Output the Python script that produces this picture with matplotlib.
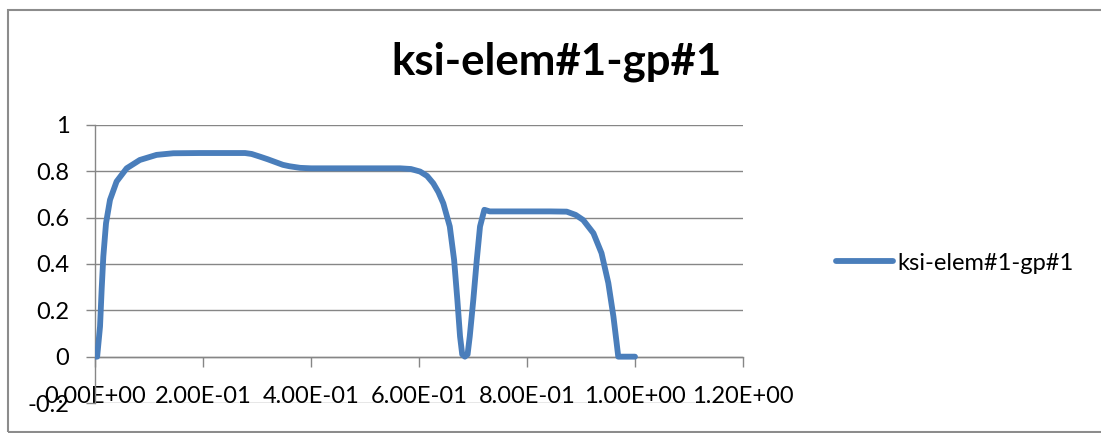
import matplotlib
matplotlib.use("Agg")
import matplotlib.pyplot as plt
from matplotlib.patches import Rectangle

# Series: ksi at element 1, Gauss point 1
series_name = "ksi-elem#1-gp#1"
time = [0.0, 0.004, 0.0093, 0.0123, 0.0154, 0.0204, 0.0278, 0.040, 0.0586,
        0.083, 0.114, 0.145, 0.194, 0.278, 0.29, 0.306, 0.32, 0.348, 0.36,
        0.38, 0.40, 0.417, 0.565, 0.585, 0.602, 0.615, 0.6265, 0.636, 0.645,
        0.657, 0.665, 0.671, 0.676, 0.680, 0.685, 0.690, 0.694, 0.7006, 0.707,
        0.713, 0.721, 0.731, 0.8426, 0.8735, 0.89, 0.904, 0.923, 0.938,
        0.9506, 0.96, 0.966, 0.969, 1.0]
ksi = [0.0, 0.0, 0.13, 0.289, 0.432, 0.576, 0.677, 0.756, 0.813,
       0.849, 0.871, 0.878, 0.879, 0.879, 0.875, 0.863, 0.852, 0.828, 0.822,
       0.815, 0.813, 0.813, 0.813, 0.810, 0.799, 0.780, 0.748, 0.710, 0.662,
       0.562, 0.418, 0.246, 0.0875, 0.01, 0.0, 0.01, 0.0875, 0.246, 0.418,
       0.562, 0.634, 0.627, 0.627, 0.626, 0.612, 0.59, 0.533, 0.447,
       0.318, 0.174, 0.059, 0.0, 0.0]

x_ticks = [0.0, 0.2, 0.4, 0.6, 0.8, 1.0, 1.2]
x_tick_labels = ["0.00E+00", "2.00E-01", "4.00E-01", "6.00E-01", "8.00E-01",
                 "1.00E+00", "1.20E+00"]
y_ticks = [-0.2, 0.0, 0.2, 0.4, 0.6, 0.8, 1.0]
y_tick_labels = ["-0.2", "0", "0.2", "0.4", "0.6", "0.8", "1"]

W, H = 1101, 433
plt.rcParams["font.family"] = ["Lato", "DejaVu Sans"]
fig = plt.figure(figsize=(W / 100, H / 100), dpi=100)

# chart area frame
fig.patches.append(Rectangle((8 / W, 1 - 432 / H), 1.2, (432 - 9.5) / H,
                             transform=fig.transFigure, fill=False,
                             edgecolor="#8c8c8c", linewidth=1.5))

ax = fig.add_axes([95 / W, 1 - 403 / H, 648 / W, 278 / H])
grid_c = "#868686"
line_c = "#4a7ebb"

ax.plot(time, ksi, color=line_c, linewidth=4.2, solid_capstyle="round",
        solid_joinstyle="round", label=series_name, zorder=3)

ax.set_xlim(0, 1.2)
ax.set_ylim(-0.2, 1.0)
ax.set_xticks(x_ticks)
ax.set_xticklabels(x_tick_labels)
ax.set_yticks(y_ticks)
ax.set_yticklabels(y_tick_labels)

for yv in y_ticks:
    ax.axhline(yv, color=grid_c, linewidth=1.0, zorder=1)

for s in ["top", "right"]:
    ax.spines[s].set_visible(False)
ax.spines["bottom"].set_position(("data", 0))
ax.spines["bottom"].set_color(grid_c)
ax.spines["left"].set_color(grid_c)
ax.spines["bottom"].set_linewidth(1.0)
ax.spines["left"].set_linewidth(1.0)

ax.tick_params(axis="x", direction="out", length=7, width=1.0, color=grid_c,
               labelsize=17, pad=14, labelcolor="#000000")
ax.tick_params(axis="y", direction="out", length=6.5, width=1.0, color=grid_c,
               labelsize=17, pad=12, labelcolor="#000000")

fig.text(557 / W, 1 - 62 / H, series_name, ha="center", va="center",
         fontsize=31.5, fontweight="bold", color="#000000")

fig.legend(loc="center left", bbox_to_anchor=(836 / W, 1 - 263 / H),
           frameon=False, fontsize=17, handlelength=2.4, handletextpad=0.2,
           borderpad=0, borderaxespad=0)

fig.savefig("out.png", dpi=100)
